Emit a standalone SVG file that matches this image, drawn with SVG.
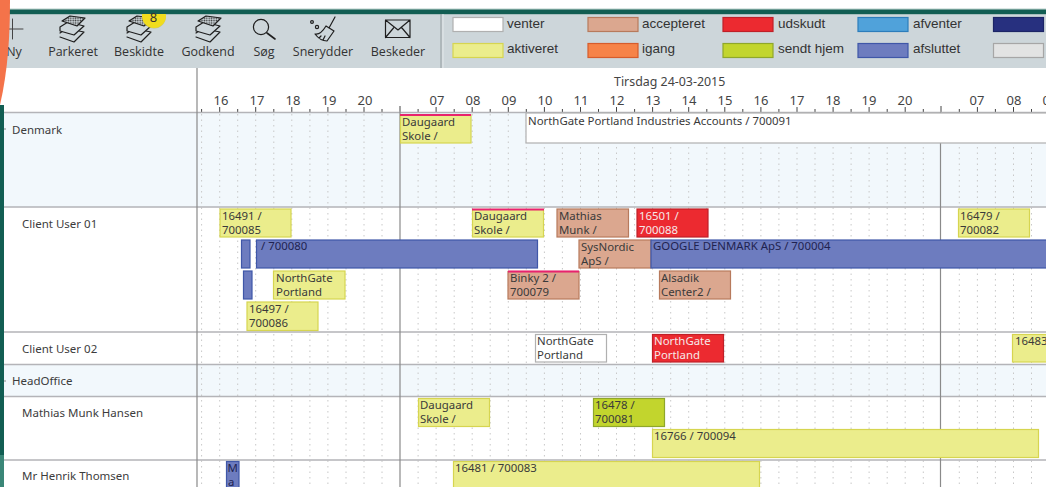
<svg xmlns="http://www.w3.org/2000/svg" xmlns:xlink="http://www.w3.org/1999/xlink" width="1046" height="487" viewBox="0 0 1046 487">
<style>
text{font-family:"Noto Sans","DejaVu Sans",sans-serif;font-size:12px;fill:#3a3a3a}
.tb{font-family:"Open Sans","Noto Sans",sans-serif;font-size:12.5px;fill:#333;text-anchor:middle}
.lg{font-family:"Liberation Sans",Arial,sans-serif;font-size:13.5px;fill:#333}
.hr{font-size:13px;fill:#444;text-anchor:middle}
.row{font-size:11.5px;fill:#3c3c3c}
.bar text{font-size:11.4px;transform:translateY(-0.7px)}
.v{fill:#fff;stroke:#b0b0b0;stroke-width:1.2}
.a{fill:#ebed8c;stroke:#d6d550;stroke-width:1.2}
.c{fill:#dba78f;stroke:#b77a5c;stroke-width:1.2}
.u{fill:#ec2a30;stroke:#bf2028;stroke-width:1.2}
.s{fill:#c2d52d;stroke:#8fa72a;stroke-width:1.2}
.f{fill:#6d7cbf;stroke:#3f57a8;stroke-width:1.2}
.pk{stroke:#e8236e;stroke-width:2;fill:none}
.ic{fill:none;stroke:#1e1e1e;stroke-width:1.2;stroke-linejoin:round;stroke-linecap:round}
.grid{fill:none;stroke:#c8c8c8;stroke-width:1;stroke-dasharray:1.5 4}
.ln{fill:none;stroke:#b4b4b8;stroke-width:1.4}
.day{fill:none;stroke:#8a8a8a;stroke-width:1.2}
</style>
<defs>
<pattern id="dots" patternUnits="userSpaceOnUse" width="2.4" height="2.4"><rect width="2.4" height="2.4" fill="#cdd6da"/><circle cx="1.2" cy="1.2" r="0.8" fill="#333"/></pattern>
<clipPath id="belowBar"><rect x="130" y="14" width="50" height="20"/></clipPath>
<g id="stack">
<path class="ic" d="M-12 4 L-6 0 M7 2 L12 3 L2 13 L-12 8" />
<path class="ic" d="M-12 -2 L-4 -7 L12 -3 L2 6 L-12 2 Z" style="fill:#cdd6da"/>
<path class="ic" d="M-10 -8 L-2 -13 L13 -11 L5 -3 Z" style="fill:url(#dots)"/>
</g>
</defs>
<rect width="1046" height="487" fill="#fff"/>
<g id="toolbar">
<rect x="0" y="14" width="1046" height="54" fill="#cdd6da"/>
<rect x="0" y="8.5" width="1046" height="1.2" fill="#b8cfca"/>
<rect x="0" y="9.5" width="1046" height="4.7" fill="#125e53"/>
<path d="M441 14V68" stroke="#9aa3a7" stroke-width="1.2" fill="none"/>
<path d="M443 14V68" stroke="#e3e8ea" stroke-width="1" fill="none"/>
</g>
<g id="btn-ny"><path class="ic" d="M12.5 19V39M5 29H23" style="stroke:#444;stroke-width:1"/><text class="tb" x="14" y="56">Ny</text></g>
<g id="btn-parkeret"><use xlink:href="#stack" x="72" y="29"/><text class="tb" x="73" y="56">Parkeret</text></g>
<g id="btn-beskidte"><use xlink:href="#stack" x="139" y="29"/><g clip-path="url(#belowBar)"><circle cx="154" cy="16.5" r="12" fill="#b4b43c" opacity=".5"/><circle cx="154" cy="16" r="12" fill="#f0dc1e"/></g><text x="153.5" y="22" style="font-size:13px;text-anchor:middle;fill:#333">8</text><text class="tb" x="139" y="56">Beskidte</text></g>
<g id="btn-godkend"><use xlink:href="#stack" x="208" y="29"/><text class="tb" x="208" y="56">Godkend</text></g>
<g id="btn-sog"><circle class="ic" cx="261" cy="27" r="7.6"/><path class="ic" d="M267 33L275 39" style="stroke-width:1.6"/><text class="tb" x="264" y="56">Søg</text></g>
<g id="btn-snerydder"><path class="ic" d="M335 17L329 28M326 26L334 31L327 41C322 41 318 38 315 34C320 35 323 31 326 26ZM321 36L319 38M325 36L323 40"/><circle class="ic" cx="312" cy="22" r="1.4"/><circle class="ic" cx="317" cy="27" r="1.6"/><text class="tb" x="323" y="56">Snerydder</text></g>
<g id="btn-beskeder"><path class="ic" d="M385.5 20H410V37.5H385.5ZM385.5 20L398 30L410 20M385.5 37.5L393.5 28M410 37.5L402 28"/><text class="tb" x="398" y="56">Beskeder</text></g>
<g id="legend">
<rect class="v" x="453" y="17.5" width="50" height="14"/><text class="lg" x="507" y="27.5">venter</text>
<rect class="a" x="453" y="43.5" width="50" height="14"/><text class="lg" x="507" y="53">aktiveret</text>
<rect class="c" x="588" y="17.5" width="50" height="14"/><text class="lg" x="642" y="27.5">accepteret</text>
<rect x="588" y="43.5" width="50" height="14" fill="#f68348" stroke="#d65c2c" stroke-width="1.2"/><text class="lg" x="642" y="53">igang</text>
<rect class="u" x="723" y="17.5" width="50" height="14"/><text class="lg" x="778" y="27.5">udskudt</text>
<rect class="s" x="723" y="43.5" width="50" height="14"/><text class="lg" x="778" y="53">sendt hjem</text>
<rect x="858" y="17.5" width="50" height="14" fill="#50a2da" stroke="#2c7dbb" stroke-width="1.2"/><text class="lg" x="913" y="27.5">afventer</text>
<rect class="f" x="858" y="43.5" width="50" height="14"/><text class="lg" x="913" y="53">afsluttet</text>
<rect x="993.5" y="17.5" width="50" height="14" fill="#27307f" stroke="#1c2566" stroke-width="1.2"/>
<rect x="993.5" y="43.5" width="50" height="14" fill="#e2e3e3" stroke="#a6a6a6" stroke-width="1.2"/>
</g>
<g id="rows">
<rect x="4" y="113" width="1042" height="94" fill="#f2f8fc"/>
<rect x="4" y="365" width="1042" height="31" fill="#f2f8fc"/>
</g>
<g id="timeline">
<text x="614" y="86" style="font-size:12.4px;fill:#444">Tirsdag 24-03-2015</text>
<g>
<text class="hr" x="221" y="105">16</text><text class="hr" x="257" y="105">17</text><text class="hr" x="293" y="105">18</text><text class="hr" x="329" y="105">19</text><text class="hr" x="365" y="105">20</text>
<text class="hr" x="437" y="105">07</text><text class="hr" x="473" y="105">08</text><text class="hr" x="509" y="105">09</text><text class="hr" x="545" y="105">10</text><text class="hr" x="581" y="105">11</text><text class="hr" x="617" y="105">12</text><text class="hr" x="653" y="105">13</text><text class="hr" x="689" y="105">14</text><text class="hr" x="725" y="105">15</text><text class="hr" x="761" y="105">16</text><text class="hr" x="797" y="105">17</text><text class="hr" x="833" y="105">18</text><text class="hr" x="869" y="105">19</text><text class="hr" x="905" y="105">20</text>
<text class="hr" x="977" y="105">07</text><text class="hr" x="1014" y="105">08</text><text class="hr" x="1050" y="105">09</text>
</g>
<path d="M219.7 107V112M255.7 107V112M291.8 107V112M327.9 107V112M364 107V112M400 106V112M436.1 107V112M472.2 107V112M508.3 107V112M544.4 107V112M580.5 107V112M616.5 107V112M652.6 107V112M688.7 107V112M724.8 107V112M760.9 107V112M797 107V112M833.1 107V112M869.1 107V112M905.2 107V112M941 106V112M977.4 107V112M1013.5 107V112M201.6 109V112M237.7 109V112M273.8 109V112M309.9 109V112M346 109V112M382 109V112M418.1 109V112M454.2 109V112M490.2 109V112M526.3 109V112M562.4 109V112M598.5 109V112M634.6 109V112M670.7 109V112M706.8 109V112M742.8 109V112M778.9 109V112M815 109V112M851.1 109V112M887.2 109V112M923.3 109V112M959.3 109V112M995.4 109V112M1031.5 109V112" stroke="#444" stroke-width="1" fill="none"/>
</g>
<g id="grid">
<path class="grid" d="M201.6 114V487M219.7 114V487M237.7 114V487M255.7 114V487M273.8 114V487M291.8 114V487M309.9 114V487M327.9 114V487M346 114V487M364 114V487M382 114V487M418.1 114V487M436.1 114V487M454.2 114V487M472.2 114V487M490.2 114V487M508.3 114V487M526.3 114V487M544.4 114V487M562.4 114V487M580.5 114V487M598.5 114V487M616.5 114V487M634.6 114V487M652.6 114V487M670.7 114V487M688.7 114V487M706.8 114V487M724.8 114V487M742.8 114V487M760.9 114V487M778.9 114V487M797 114V487M815 114V487M833.1 114V487M851.1 114V487M869.1 114V487M887.2 114V487M905.2 114V487M923.3 114V487M959.3 114V487M977.4 114V487M995.4 114V487M1013.5 114V487M1031.5 114V487"/>
<path class="ln" d="M4 112.5H1046M4 207H1046M4 332H1046M4 364.5H1046M4 396.5H1046M4 460H1046"/>
<path class="day" d="M197 68V487M400 112V487M940.5 112V487"/>
</g>
<g id="labels">
<path d="M2 129H6M2 381H6" stroke="#888" stroke-width="1"/>
<text class="row" x="12" y="134">Denmark</text>
<text class="row" x="22" y="228">Client User 01</text>
<text class="row" x="22" y="353">Client User 02</text>
<text class="row" x="12" y="385">HeadOffice</text>
<text class="row" x="22" y="417">Mathias Munk Hansen</text>
<text class="row" x="22" y="480">Mr Henrik Thomsen</text>
</g>
<g id="bars" class="bar">
<g id="b1"><rect class="a" x="400.5" y="115" width="70.5" height="28"/><path class="pk" d="M400 115H471"/><text x="402" y="126.7">Daugaard</text><text x="402" y="140.5">Skole /</text></g>
<g id="b2"><rect class="v" x="526" y="113" width="525" height="30"/><text x="528" y="125.5">NorthGate Portland Industries Accounts / 700091</text></g>
<g id="b3"><rect class="a" x="220" y="209" width="71" height="28"/><text x="222" y="220.7">16491 /</text><text x="222" y="234.5">700085</text></g>
<g id="b4"><rect class="a" x="472.5" y="209.5" width="71" height="27.5"/><path class="pk" d="M472 209.5H544"/><text x="474" y="220.7">Daugaard</text><text x="474" y="234.5">Skole /</text></g>
<g id="b5"><rect class="c" x="557" y="209" width="71.5" height="28"/><text x="559" y="220.7">Mathias</text><text x="559" y="234.5">Munk /</text></g>
<g id="b6"><rect class="u" x="637" y="209" width="71" height="28"/><text x="639" y="220.7" style="fill:#f5e8e8">16501 /</text><text x="639" y="234.5" style="fill:#f5e8e8">700088</text></g>
<g id="b7"><rect class="a" x="958.5" y="209" width="71" height="28"/><text x="960" y="220.7">16479 /</text><text x="960" y="234.5">700082</text></g>
<g id="b8"><rect class="f" x="241.5" y="240" width="8.5" height="28"/></g>
<g id="b9"><rect class="f" x="256.5" y="240" width="281" height="28"/><text x="261" y="251" style="fill:#1f2350">/ 700080</text></g>
<g id="b10"><rect class="c" x="579" y="240" width="72" height="28"/><text x="581" y="251.7">SysNordic</text><text x="581" y="265.5">ApS /</text></g>
<g id="b11"><rect class="f" x="651" y="240" width="400" height="28"/><text x="653" y="251" style="fill:#1f2350">GOOGLE DENMARK ApS / 700004</text></g>
<g id="b12"><rect class="f" x="243.5" y="271" width="8.5" height="28"/></g>
<g id="b13"><rect class="a" x="273.5" y="271" width="71.5" height="28"/><text x="276" y="282.7">NorthGate</text><text x="276" y="296.5">Portland</text></g>
<g id="b14"><rect class="c" x="508" y="271.5" width="71" height="27.5"/><path class="pk" d="M508 271.5H579"/><text x="510" y="282.7">Binky 2 /</text><text x="510" y="296.5">700079</text></g>
<g id="b15"><rect class="c" x="659.5" y="271" width="71" height="28"/><text x="661" y="282.7">Alsadik</text><text x="661" y="296.5">Center2 /</text></g>
<g id="b16"><rect class="a" x="247" y="302" width="71" height="28.5"/><text x="249" y="313.7">16497 /</text><text x="249" y="327.5">700086</text></g>
<g id="b17"><rect class="v" x="535.5" y="334.5" width="71" height="27.5"/><text x="537" y="345.7">NorthGate</text><text x="537" y="359.5">Portland</text></g>
<g id="b18"><rect class="u" x="652.5" y="334.5" width="71" height="27.5"/><text x="654" y="345.7" style="fill:#f5e8e8">NorthGate</text><text x="654" y="359.5" style="fill:#f5e8e8">Portland</text></g>
<g id="b19"><rect class="a" x="1012.5" y="334.5" width="40" height="27.5"/><text x="1015" y="345.7">16483</text></g>
<g id="b20"><rect class="a" x="418.5" y="398.5" width="71" height="28"/><text x="420" y="409.7">Daugaard</text><text x="420" y="423.5">Skole /</text></g>
<g id="b21"><rect class="s" x="593.5" y="398.5" width="71" height="28"/><text x="595" y="409.7">16478 /</text><text x="595" y="423.5">700081</text></g>
<g id="b22"><rect class="a" x="652.5" y="429.5" width="386" height="28"/><text x="654" y="440.5">16766 / 700094</text></g>
<g id="b23"><rect class="f" x="226.5" y="461.5" width="12.5" height="30"/><text x="227.5" y="473" style="fill:#1f2350">M</text><text x="228" y="486.5" style="fill:#1f2350">a</text></g>
<g id="b24"><rect class="a" x="453.5" y="461.5" width="306" height="30"/><text x="455" y="472.5">16481 / 700083</text></g>
</g>
<g id="edge">
<path d="M0 105V487H4V105Z" fill="#125e53"/>
<path d="M0 455V487H4V455Z" fill="#3a8677"/>
<path d="M0 0H10C10 35 8 70 0 105Z" fill="#f4734a"/>
</g>
<g id="connectors"/>
</svg>
